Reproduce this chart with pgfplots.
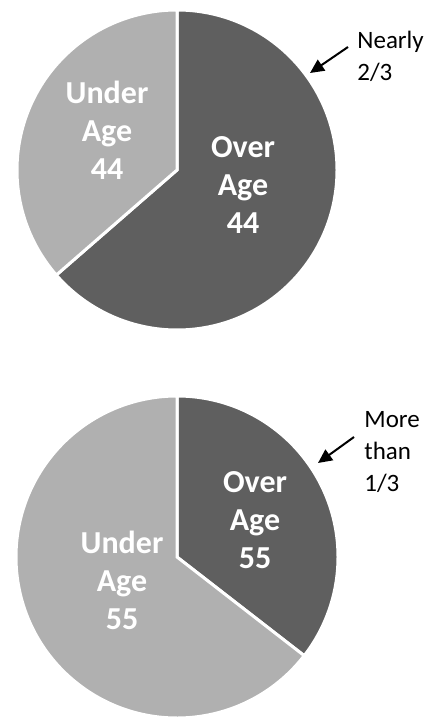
\documentclass[border=0pt]{standalone}
\usepackage{pgfplots}
\pgfplotsset{compat=1.18}
\usepackage{pgfplotstable}
\usepackage{fontspec}
\setmainfont{Carlito}
\usetikzlibrary{arrows.meta}
\definecolor{darkslice}{HTML}{5F5F5F}
\definecolor{lightslice}{HTML}{B0B0B0}
\pgfplotstableread{
group over under
44 63.6 36.4
55 35.5 64.5
}\shares
\begin{document}
\begin{tikzpicture}
\pgfplotstablegetelem{0}{over}\of\shares \let\topover\pgfplotsretval
\pgfplotstablegetelem{1}{over}\of\shares \let\botover\pgfplotsretval
\pgfmathsetmacro{\topend}{90-3.6*\topover}
\pgfmathsetmacro{\botend}{90-3.6*\botover}
% top pie
\begin{axis}[at={(88.5pt,-85pt)}, anchor=center, hide axis, scale only axis,
  x=80pt, y=80pt, xmin=-1, xmax=1, ymin=-1, ymax=1, clip=false]
\path[fill=darkslice, draw=white, line width=1.5pt] (axis cs:0,0) -- (axis cs:0,1)
  arc[start angle=90, end angle=\topend, radius=80pt] -- cycle;
\path[fill=lightslice, draw=white, line width=1.5pt] (axis cs:0,0) -- (axis cs:{cos(\topend)},{sin(\topend)})
  arc[start angle=\topend, end angle=-270, radius=80pt] -- cycle;
\end{axis}
% bottom pie
\begin{axis}[at={(88.5pt,-278.5pt)}, anchor=center, hide axis, scale only axis,
  x=80.5pt, y=80.5pt, xmin=-1, xmax=1, ymin=-1, ymax=1, clip=false]
\path[fill=darkslice, draw=white, line width=1.5pt] (axis cs:0,0) -- (axis cs:0,1)
  arc[start angle=90, end angle=\botend, radius=80.5pt] -- cycle;
\path[fill=lightslice, draw=white, line width=1.5pt] (axis cs:0,0) -- (axis cs:{cos(\botend)},{sin(\botend)})
  arc[start angle=\botend, end angle=-270, radius=80.5pt] -- cycle;
\end{axis}
% slice labels
\tikzset{slabel/.style={align=center, inner sep=0pt, text=white, font=\bfseries\fontsize{16}{19}\selectfont}}
\node[slabel] at (121.5pt,-92.5pt) {Over\\Age\\44};
\node[slabel] at (53.5pt,-65pt) {Under\\Age\\44};
\node[slabel] at (127.5pt,-260pt) {Over\\Age\\55};
\node[slabel] at (61pt,-290pt) {Under\\Age\\55};
% annotations
\tikzset{alabel/.style={align=left, anchor=west, inner sep=0pt, font=\fontsize{12.5}{16}\selectfont}}
\node[alabel] at (178.5pt,-28pt) {Nearly\\2/3};
\node[alabel] at (182pt,-226pt) {More\\than\\1/3};
\draw[line width=1pt, -{Triangle[length=7pt,width=6.5pt]}] (174pt,-23.5pt) -- (155pt,-36.5pt);
\draw[line width=1pt, -{Triangle[length=7pt,width=6.5pt]}] (177pt,-218.5pt) -- (159pt,-231.5pt);
\pgfresetboundingbox
\useasboundingbox (0,0) rectangle (221pt,-360.5pt);
\end{tikzpicture}
\end{document}
